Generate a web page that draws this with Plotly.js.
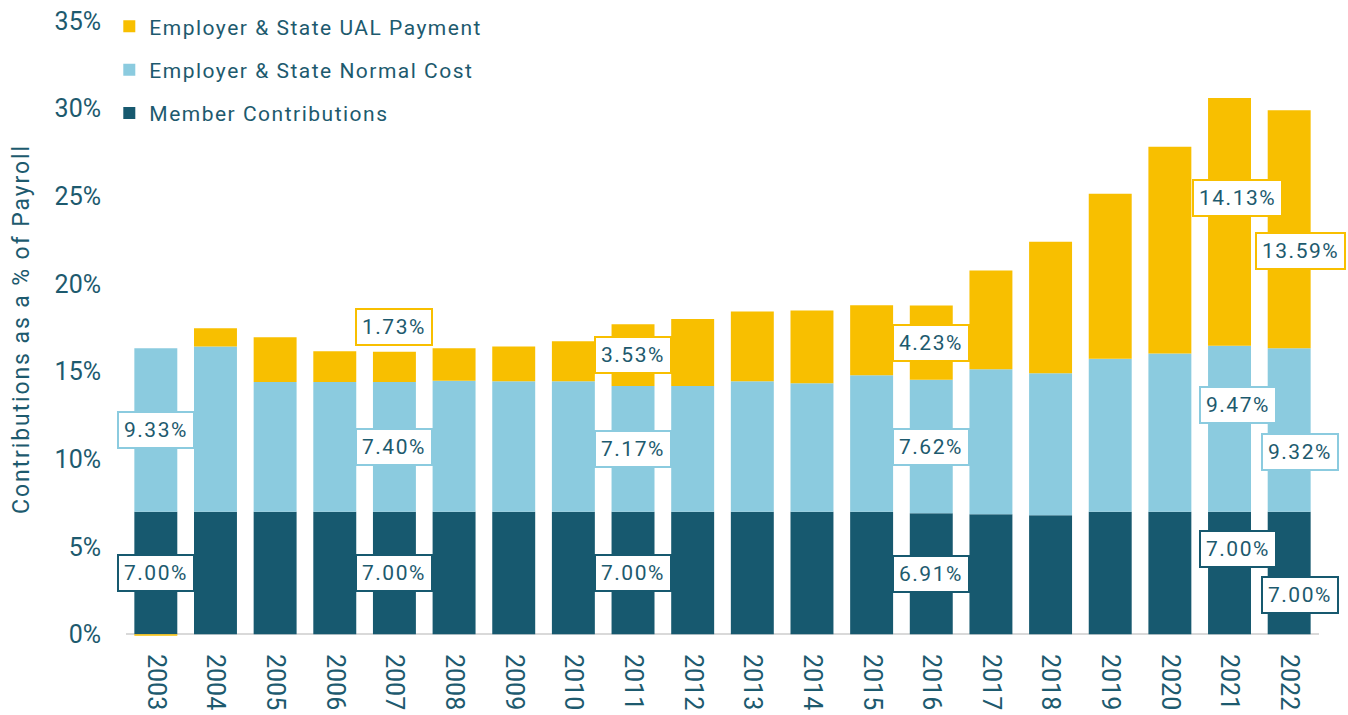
<!DOCTYPE html>
<html>
<head>
<meta charset="utf-8">
<script src="https://cdn.plot.ly/plotly-3.0.1.min.js"></script>
<style>
  html, body { margin: 0; padding: 0; background: #ffffff; }
  #chart { width: 1348px; height: 715px; }
  .legendtext { letter-spacing: 1.5px; }
  .ytitle { letter-spacing: 1.9px; }
  .annotation-text { letter-spacing: 1.5px; }
</style>
</head>
<body>
<div id="chart"></div>
<script>
// ---- data ----
const years = ['2003','2004','2005','2006','2007','2008','2009','2010','2011','2012',
               '2013','2014','2015','2016','2017','2018','2019','2020','2021','2022'];
const memberContributions = [7.00, 7.00, 7.00, 7.00, 7.00, 7.00, 7.00, 7.00, 7.00, 7.00,
                             7.00, 7.00, 7.00, 6.91, 6.86, 6.80, 7.00, 7.00, 7.00, 7.00];
const normalCost = [9.33, 9.42, 7.40, 7.40, 7.40, 7.47, 7.45, 7.45, 7.17, 7.17,
                    7.45, 7.33, 7.79, 7.62, 8.27, 8.10, 8.73, 9.03, 9.47, 9.32];
const ualPayment = [-0.08, 1.05, 2.56, 1.76, 1.73, 1.85, 1.98, 2.27, 3.53, 3.82,
                    3.97, 4.15, 3.99, 4.23, 5.64, 7.51, 9.41, 11.79, 14.13, 13.59];
const seriesNames = ['Member Contributions', 'Employer & State Normal Cost', 'Employer & State UAL Payment'];
const yTickValues = [0, 5, 10, 15, 20, 25, 30, 35];
const memberLabelYears = ['2003','2007','2011','2016','2021','2022'];
const normalLabelYears = ['2003','2007','2011','2016','2021','2022'];
const ualLabelYears = ['2007','2011','2016','2021','2022'];

// ---- styling ----
const COL_DARK = '#17596f';
const COL_LIGHT = '#8bcbdf';
const COL_GOLD = '#f8bf00';
const TEXT = '#1d5a6e';
const FONT = 'Roboto, "Open Sans", sans-serif';
const labelOffsets = { '2021': [8, 24], '2022': [11, -22] }; // [xshift, yshift] px

const series = [memberContributions, normalCost, ualPayment];
const colors = [COL_DARK, COL_LIGHT, COL_GOLD];
const ranks = [3, 2, 1];
const xIdx = years.map((_, i) => i);

const traces = series.map((vals, i) => ({
  type: 'bar',
  x: xIdx,
  y: vals,
  name: seriesNames[i],
  legendgroup: 'g' + i,
  legendrank: ranks[i],
  marker: { color: colors[i], line: { width: 0 } },
  hoverinfo: 'skip'
}));

// data labels computed from the series
const annotations = [];
const labelSets = [memberLabelYears, normalLabelYears, ualLabelYears];
labelSets.forEach((yrs, si) => {
  yrs.forEach(yr => {
    const idx = years.indexOf(yr);
    let base = 0;
    for (let k = 0; k < si; k++) base += series[k][idx];
    const v = series[si][idx];
    const off = labelOffsets[yr] || [0, 0];
    const small = v < 2.5;
    annotations.push({
      x: idx, xref: 'x',
      y: small ? base + v : base + v / 2, yref: 'y',
      yanchor: small ? 'bottom' : 'middle',
      text: v.toFixed(2) + '%',
      showarrow: false,
      font: { family: FONT, size: 21, color: TEXT },
      bgcolor: '#ffffff',
      bordercolor: colors[si],
      borderwidth: 2,
      borderpad: 5,
      xshift: off[0],
      yshift: small ? 6 : off[1]
    });
  });
});

const layout = {
  width: 1348, height: 715,
  margin: { l: 126, r: 29, t: 21, b: 78, autoexpand: false },
  paper_bgcolor: '#ffffff',
  plot_bgcolor: '#ffffff',
  barmode: 'relative',
  bargap: 0.28,
  font: { family: FONT, color: TEXT },
  showlegend: true,
  legend: {
    x: -0.014, xanchor: 'left',
    y: 1.024, yanchor: 'top',
    traceorder: 'grouped',
    tracegroupgap: 13,
    font: { family: FONT, size: 21, color: TEXT },
    bgcolor: 'rgba(0,0,0,0)'
  },
  xaxis: {
    type: 'linear',
    range: [-0.5, 19.5],
    tickmode: 'array',
    tickvals: xIdx,
    ticktext: years,
    tickangle: 90,
    tickfont: { family: FONT, size: 25, color: TEXT },
    showline: false,
    showgrid: false,
    zeroline: false,
    ticks: '',
    ticklabelstandoff: 16,
    fixedrange: true
  },
  yaxis: {
    range: [-0.15, 35],
    tickvals: yTickValues,
    ticktext: yTickValues.map(v => v + '%'),
    tickfont: { family: FONT, size: 25, color: TEXT },
    showgrid: false,
    zeroline: true,
    zerolinecolor: '#d9d9d9',
    zerolinewidth: 2,
    ticks: '',
    ticklabelstandoff: 24,
    automargin: true,
    title: { text: 'Contributions as a % of Payroll', standoff: 18,
             font: { family: FONT, size: 23, color: TEXT } },
    fixedrange: true
  },
  annotations: annotations
};

Plotly.newPlot('chart', traces, layout, { displayModeBar: false, staticPlot: true });
</script>
</body>
</html>
